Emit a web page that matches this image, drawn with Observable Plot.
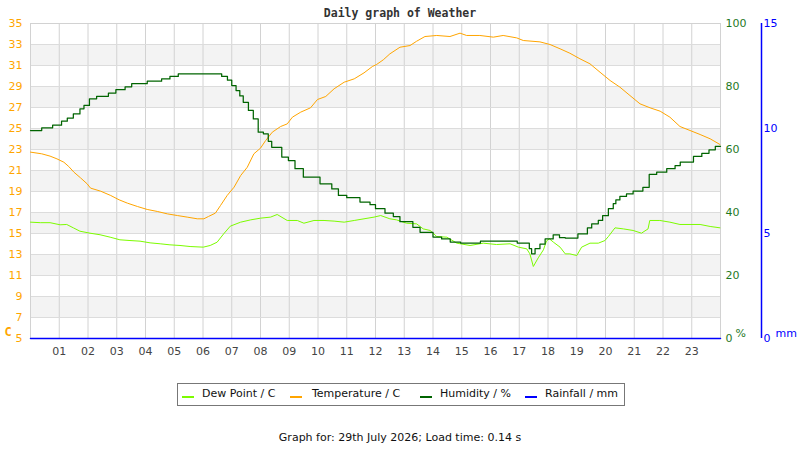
<!DOCTYPE html>
<html><head><meta charset="utf-8">
<script src="https://cdn.jsdelivr.net/npm/d3@7"></script>
<script src="https://cdn.jsdelivr.net/npm/@observablehq/plot@0.6"></script>
<style>
body{margin:0;background:#fff;font-family:"DejaVu Sans",sans-serif;}
#wrap{position:relative;width:800px;height:450px;overflow:hidden;}
#title{position:absolute;top:6px;left:0;width:800px;text-align:center;font:bold 11.5px "DejaVu Sans Mono",monospace;color:#333;}
#chart{position:absolute;top:0;left:0;}
#legend{position:absolute;left:177px;top:383px;width:446px;height:21px;border:1px solid #777;font-size:11px;color:#111;background:#fff}
.sw{position:absolute;top:12px;width:12px;height:2px}
.lt{position:absolute;top:3px;white-space:nowrap}
#caption{position:absolute;top:431px;left:0;width:800px;text-align:center;font-size:11px;color:#111}
</style></head>
<body>
<div id="wrap">
<div id="chart"></div>
<div id="title">Daily graph of Weather</div>
<div id="legend"></div>
<div id="caption">Graph for: 29th July 2026; Load time: 0.14 s</div>
</div>
<script>
// ---- data ----
const hourTicks = [1,2,3,4,5,6,7,8,9,10,11,12,13,14,15,16,17,18,19,20,21,22,23];
const hourLabels = ["01","02","03","04","05","06","07","08","09","10","11","12","13","14","15","16","17","18","19","20","21","22","23"];
const tempTicks = [5,7,9,11,13,15,17,19,21,23,25,27,29,31,33,35];
const humTicks = [0,20,40,60,80,100];
const rainTicks = [0,5,10,15];

const tempHours = [0,0.39,0.68,0.92,1.16,1.33,1.51,1.74,1.97,2.09,2.44,2.79,3.08,3.37,3.72,4.06,4.41,4.76,5.11,5.45,5.80,6.03,6.19,6.43,6.61,6.84,7.08,7.31,7.54,7.77,8.0,8.18,8.41,8.70,8.93,9.11,9.40,9.74,9.98,10.27,10.56,10.91,11.26,11.60,11.89,12.04,12.27,12.50,12.85,13.2,13.43,13.72,14.13,14.59,14.94,15.17,15.63,16.10,16.44,16.91,17.14,17.72,18.07,18.42,18.76,19.11,19.46,19.81,20.16,20.50,20.85,21.20,21.55,21.90,22.24,22.59,22.94,23.29,23.64,23.98];
const tempValues = [22.75,22.59,22.37,22.11,21.79,21.38,20.84,20.30,19.73,19.32,19.03,18.62,18.21,17.89,17.57,17.29,17.10,16.87,16.71,16.56,16.40,16.40,16.62,16.94,17.67,18.62,19.41,20.52,21.31,22.59,23.13,23.86,24.65,25.19,25.44,26.08,26.56,26.97,27.76,28.05,28.78,29.41,29.73,30.30,30.90,31.10,31.54,32.11,32.74,32.90,33.31,33.76,33.86,33.76,34.08,33.86,33.86,33.70,33.86,33.63,33.38,33.25,33.0,32.59,32.17,31.64,31.16,30.36,29.57,28.94,28.14,27.35,26.97,26.65,26.08,25.19,24.81,24.43,24.02,23.48];

const dewHours = [0,0.34,0.68,1.03,1.26,1.49,1.72,2.07,2.42,2.77,3.11,3.46,3.81,4.16,4.51,4.85,5.20,5.55,6.01,6.25,6.49,6.72,6.95,7.31,7.66,8.0,8.35,8.58,8.93,9.28,9.51,9.86,10.21,10.56,10.91,11.26,11.60,11.95,12.18,12.50,12.73,13.08,13.43,13.66,13.90,14.13,14.48,14.83,15.29,15.75,16.21,16.68,16.97,17.26,17.37,17.49,17.66,17.84,17.95,18.05,18.19,18.42,18.6,18.76,19.0,19.17,19.46,19.75,19.98,20.10,20.33,20.62,20.96,21.25,21.48,21.54,21.89,22.24,22.59,22.94,23.29,23.64,23.98];
const dewValues = [16.08,16.03,16.03,15.83,15.86,15.54,15.22,15.03,14.88,14.65,14.40,14.33,14.27,14.11,14.02,13.92,13.86,13.76,13.70,13.86,14.17,14.97,15.70,16.08,16.30,16.46,16.56,16.81,16.24,16.24,15.98,16.24,16.24,16.18,16.08,16.24,16.40,16.56,16.71,16.40,16.30,15.98,15.92,15.44,15.29,14.71,14.65,14.08,13.86,14.08,13.95,14.02,13.70,13.54,13.06,11.86,12.68,13.44,14.3,14.49,14.17,13.70,13.06,13.06,12.90,13.70,14.08,14.08,14.33,14.71,15.54,15.44,15.29,15.03,15.44,16.24,16.24,16.08,15.86,15.86,15.86,15.67,15.54];

const humHours = [0,0.39,0.77,1.08,1.28,1.49,1.72,1.86,2.05,2.30,2.71,2.97,3.29,3.52,4.06,4.56,4.85,5.14,6.65,6.85,7.0,7.15,7.28,7.40,7.58,7.75,7.92,8.10,8.27,8.39,8.74,8.97,9.2,9.49,10.07,10.48,10.71,11.0,11.46,11.81,12.0,12.33,12.62,12.85,13.3,13.55,14.0,14.3,14.6,14.96,15.65,16.93,17.35,17.43,17.55,17.72,17.9,18.18,18.4,18.6,19.04,19.37,19.52,19.75,19.9,20.1,20.27,20.36,20.5,20.73,20.96,21.3,21.52,21.78,22.13,22.42,22.6,23.06,23.35,23.6,23.82,24];
const humValues = [66.0,66.9,67.7,69.0,70.0,71.3,72.9,74.0,76.1,76.9,77.9,79.0,79.9,80.9,81.7,82.4,83.2,84.0,83.2,82.0,80.3,78.7,77.0,75.0,72.4,69.7,65.5,65.0,62.6,60.7,57.6,56.5,53.9,51.2,49.1,47.5,45.4,44.7,43.3,42.5,41.2,39.8,38.7,37.1,35.3,33.7,32.2,31.6,30.6,30.3,30.9,30.3,28.5,26.9,28.5,30.0,31.6,32.9,32.0,31.9,33.2,35.1,36.4,37.5,39.0,41.2,42.8,44.0,45.1,45.9,46.8,48.0,52.1,52.8,53.9,54.9,56.0,57.8,58.8,59.9,61.0,61.0];

const rainHours = [0,24];
const rainValues = [0,0];

const seriesNames = ["Dew Point / C","Temperature / C","Humidity / %","Rainfall / mm"];
const seriesColors = ["#7cfc00","#ffa500","#006400","#0000ff"];

// ---- scale helpers (map secondary axes onto the temperature scale) ----
const humToC = h => 5 + h * 0.3;
const rainToC = r => 5 + r * 2;

const temp = tempHours.map((h,i)=>({h, v: tempValues[i]}));
const dew = dewHours.map((h,i)=>({h, v: dewValues[i]}));
const hum = humHours.map((h,i)=>({h, v: humToC(humValues[i])}));
const rain = rainHours.map((h,i)=>({h, v: rainToC(rainValues[i])}));
const bandsShaded = [];
for (let i = tempTicks.length - 2; i > 0; i -= 2) {
  bandsShaded.push({y1: tempTicks[i-1], y2: tempTicks[i]});
}

const font = {fontFamily: "DejaVu Sans, sans-serif", fontSize: "11px"};

const chart = Plot.plot({
  width: 800, height: 365,
  marginLeft: 30, marginRight: 80, marginTop: 23, marginBottom: 27,
  style: {...font, background: "transparent", overflow: "visible"},
  x: {domain: [0, 24]},
  y: {domain: [5, 35]},
  marks: [
    Plot.rect(bandsShaded, {x1: 0, x2: 24, y1: "y1", y2: "y2", fill: "#f3f3f3"}),
    Plot.ruleX(hourTicks, {stroke: "#d2d2d2"}),
    Plot.ruleY(tempTicks, {stroke: "#dcdcdc"}),
    Plot.frame({stroke: "#d2d2d2"}),
    Plot.line(dew, {x: "h", y: "v", stroke: seriesColors[0], strokeWidth: 1}),
    Plot.line(temp, {x: "h", y: "v", stroke: seriesColors[1], strokeWidth: 1}),
    Plot.line(hum, {x: "h", y: "v", stroke: seriesColors[2], strokeWidth: 1.25, curve: "step-after"}),
    Plot.line(rain, {x: "h", y: "v", stroke: seriesColors[3], strokeWidth: 1.5}),
    Plot.axisX({ticks: hourTicks, tickFormat: d => hourLabels[hourTicks.indexOf(d)], tickSize: 0, tickPadding: 9, color: "#444", label: null}),
    Plot.axisY({anchor: "left", ticks: tempTicks, tickSize: 0, tickPadding: 8, color: "#ffa500", label: null}),
    Plot.axisY({anchor: "right", ticks: humTicks.map(humToC), tickFormat: d => String(Math.round((d - 5) / 0.3)), tickSize: 0, tickPadding: 5, color: "#1f7a1f", label: null}),
    Plot.ruleX([24], {dx: 41, stroke: "#0000ff", strokeWidth: 1.5}),
    Plot.axisY({anchor: "right", ticks: rainTicks.map(rainToC), tickFormat: d => String(Math.round((d - 5) / 2)), tickSize: 0, tickPadding: 2, dx: 41, color: "#0000ff", label: null}),
    Plot.text(["C"], {frameAnchor: "bottom-left", dx: -26, dy: -3, textAnchor: "start", fill: "#ffa500", fontWeight: "bold", fontFamily: "DejaVu Sans Mono, monospace", fontSize: 12}),
    Plot.text(["%"], {frameAnchor: "bottom-right", dx: 15, dy: -2, textAnchor: "start", fill: "#1f7a1f", fontSize: 11}),
    Plot.text(["mm"], {frameAnchor: "bottom-right", dx: 55, dy: -2, textAnchor: "start", fill: "#0000ff", fontSize: 11})
  ]
});
document.getElementById("chart").appendChild(chart);

// legend
const legend = document.getElementById("legend");
const swLeft = [4, 112, 242, 347];
const txLeft = [24, 134, 262, 367];
seriesNames.forEach((n, i) => {
  const s = document.createElement("div");
  s.className = "sw"; s.style.left = swLeft[i] + "px"; s.style.background = seriesColors[i];
  legend.appendChild(s);
  const t = document.createElement("div");
  t.className = "lt"; t.style.left = txLeft[i] + "px"; t.textContent = n;
  legend.appendChild(t);
});
</script>
</body></html>
